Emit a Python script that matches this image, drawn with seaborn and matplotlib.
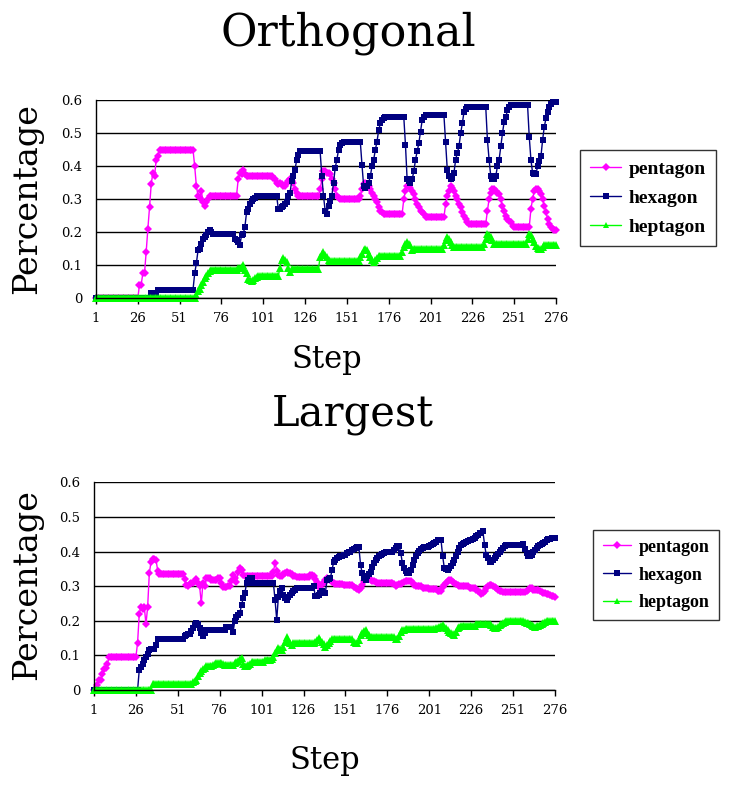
import numpy as np
import pandas as pd
import matplotlib
matplotlib.use("Agg")
import matplotlib.pyplot as plt
import seaborn as sns

# step axis and labels
steps = list(range(1, 277))
x_tick_values = [1, 26, 51, 76, 101, 126, 151, 176, 201, 226, 251, 276]
x_tick_labels = ["1", "26", "51", "76", "101", "126", "151", "176", "201", "226", "251", "276"]
y_tick_values = [0, 0.1, 0.2, 0.3, 0.4, 0.5, 0.6]
y_tick_labels = ["0", "0.1", "0.2", "0.3", "0.4", "0.5", "0.6"]
shapes = ["pentagon", "hexagon", "heptagon"]

# Orthogonal - values, one per step
pent_orth = ([0.0] * 26
             + [0.04, 0.04, 0.075, 0.075, 0.14, 0.21, 0.275, 0.345, 0.38, 0.37, 0.42, 0.43]
             + [0.45] * 21
             + [0.40, 0.34, 0.31, 0.305, 0.325, 0.29, 0.28, 0.29, 0.30]
             + [0.31] * 17
             + [0.36, 0.38, 0.375, 0.39, 0.375]
             + [0.37] * 16
             + [0.365, 0.36, 0.35, 0.345, 0.35, 0.345, 0.34, 0.34, 0.35, 0.355, 0.36, 0.355, 0.35, 0.33, 0.32]
             + [0.31] * 13
             + [0.33, 0.36, 0.385, 0.385, 0.38, 0.38, 0.375, 0.36, 0.35, 0.33, 0.31, 0.305]
             + [0.30] * 12
             + [0.31, 0.33, 0.345, 0.35, 0.345, 0.34, 0.33, 0.32, 0.31, 0.30, 0.29, 0.275, 0.265, 0.26]
             + [0.255] * 12
             + [0.30, 0.325, 0.34, 0.34, 0.335, 0.325, 0.315, 0.30, 0.285, 0.275, 0.265, 0.26, 0.255]
             + [0.245] * 12
             + [0.285, 0.31, 0.325, 0.34, 0.335, 0.325, 0.31, 0.30, 0.285, 0.275, 0.26, 0.25, 0.24, 0.23]
             + [0.225] * 11
             + [0.265, 0.30, 0.32, 0.33, 0.33, 0.325, 0.32, 0.315, 0.30, 0.28, 0.265, 0.25, 0.24, 0.235, 0.23, 0.22]
             + [0.215] * 10
             + [0.27, 0.30, 0.325, 0.33, 0.33, 0.325, 0.315, 0.30, 0.28, 0.26, 0.24, 0.225, 0.215, 0.21, 0.205, 0.205])

hex_orth = ([0.0] * 33
            + [0.015] * 4
            + [0.025] * 22
            + [0.075, 0.105, 0.145, 0.15, 0.165, 0.18, 0.185, 0.19, 0.2, 0.205, 0.2]
            + [0.195] * 13
            + [0.18, 0.175, 0.17, 0.16, 0.19, 0.195, 0.215, 0.26, 0.27, 0.285, 0.295, 0.30, 0.305]
            + [0.31] * 13
            + [0.27, 0.27, 0.275, 0.28, 0.285, 0.29, 0.31, 0.32, 0.355, 0.37, 0.39, 0.42, 0.435]
            + [0.445] * 13
            + [0.37, 0.31, 0.265, 0.255, 0.28, 0.295, 0.31, 0.35, 0.395, 0.42, 0.45, 0.465, 0.47]
            + [0.475] * 11
            + [0.405, 0.34, 0.335, 0.34, 0.35, 0.37, 0.40, 0.42, 0.45, 0.475, 0.51, 0.53, 0.54, 0.545]
            + [0.55] * 12
            + [0.465, 0.36, 0.355, 0.35, 0.36, 0.385, 0.42, 0.445, 0.47, 0.505, 0.54, 0.55]
            + [0.555] * 12
            + [0.475, 0.39, 0.37, 0.36, 0.365, 0.38, 0.42, 0.44, 0.46, 0.50, 0.53, 0.565, 0.575]
            + [0.58] * 12
            + [0.48, 0.42, 0.37, 0.36, 0.36, 0.37, 0.40, 0.42, 0.46, 0.50, 0.535, 0.55, 0.57, 0.58]
            + [0.585] * 11
            + [0.49, 0.42, 0.38, 0.375, 0.375, 0.40, 0.415, 0.43, 0.48, 0.52, 0.545, 0.565, 0.58, 0.59]
            + [0.595] * 3)

hept_orth = ([0.0] * 60
             + [0.01, 0.02, 0.027, 0.04, 0.05, 0.06, 0.067, 0.075, 0.082]
             + [0.085] * 16
             + [0.09, 0.092, 0.095, 0.10, 0.085, 0.077, 0.057, 0.055, 0.052, 0.055, 0.062, 0.065]
             + [0.067] * 13
             + [0.092, 0.115, 0.12, 0.115, 0.11, 0.09, 0.08]
             + [0.088] * 17
             + [0.125, 0.135, 0.14, 0.13, 0.125, 0.115]
             + [0.112] * 18
             + [0.125, 0.135, 0.145, 0.15, 0.145, 0.135, 0.125, 0.115, 0.11, 0.115, 0.12]
             + [0.127] * 14
             + [0.14, 0.155, 0.165, 0.17, 0.165, 0.16, 0.145]
             + [0.148] * 18
             + [0.16, 0.175, 0.185, 0.18, 0.17, 0.16]
             + [0.155] * 18
             + [0.165, 0.18, 0.195, 0.19, 0.185, 0.175]
             + [0.165] * 20
             + [0.18, 0.195, 0.19, 0.18, 0.17, 0.158, 0.152, 0.15, 0.15, 0.155]
             + [0.162] * 8)

# Largest
pent_larg = ([0.0, 0.0, 0.015, 0.03, 0.03, 0.045, 0.06, 0.063, 0.075]
             + [0.095] * 17
             + [0.137, 0.22, 0.24, 0.235, 0.24, 0.19, 0.24, 0.337, 0.37, 0.378, 0.378, 0.376, 0.345]
             + [0.335] * 15
             + [0.32, 0.304, 0.30, 0.305, 0.308, 0.31, 0.315, 0.32, 0.31, 0.30, 0.25, 0.31, 0.30, 0.323,
                0.323, 0.323, 0.318, 0.318, 0.318, 0.318, 0.323, 0.323, 0.31, 0.297, 0.297, 0.297, 0.30,
                0.30, 0.315, 0.333, 0.325, 0.313, 0.34, 0.352, 0.347, 0.333]
             + [0.33] * 17
             + [0.34, 0.368, 0.345, 0.333, 0.33, 0.328, 0.335, 0.337, 0.34, 0.337, 0.337, 0.335, 0.33, 0.328]
             + [0.326] * 8
             + [0.333, 0.333, 0.328, 0.32, 0.313, 0.30, 0.294, 0.305, 0.31, 0.318, 0.323, 0.32, 0.318, 0.312, 0.31]
             + [0.307] * 5
             + [0.304] * 6
             + [0.298, 0.294, 0.292, 0.29, 0.295, 0.304, 0.315, 0.323, 0.322, 0.32, 0.318, 0.316, 0.315, 0.313]
             + [0.309] * 10
             + [0.305, 0.30, 0.302, 0.305, 0.307, 0.31, 0.313, 0.316, 0.316, 0.316, 0.316, 0.31, 0.304]
             + [0.30] * 4
             + [0.295] * 4
             + [0.291] * 5
             + [0.287] * 3
             + [0.298, 0.304, 0.31, 0.314, 0.318, 0.318, 0.313, 0.309, 0.305, 0.302]
             + [0.30] * 6
             + [0.295] * 4
             + [0.29, 0.287, 0.282, 0.278, 0.28, 0.285, 0.295, 0.30, 0.304, 0.304, 0.30, 0.297, 0.294, 0.29,
                0.287, 0.285]
             + [0.283] * 14
             + [0.285, 0.29, 0.294, 0.294, 0.29, 0.288, 0.29, 0.288, 0.285, 0.283, 0.28, 0.28, 0.278, 0.277,
                0.275, 0.273, 0.271, 0.27])

hex_larg = ([0.0] * 27
            + [0.058, 0.067, 0.075, 0.087, 0.096, 0.105, 0.116, 0.118, 0.118, 0.118, 0.13]
            + [0.148] * 16
            + [0.155, 0.16, 0.162, 0.162, 0.17, 0.178, 0.188, 0.195, 0.192, 0.18, 0.165, 0.156, 0.165]
            + [0.174] * 12
            + [0.183] * 4
            + [0.169, 0.2, 0.212, 0.218, 0.222, 0.246, 0.265, 0.28, 0.309, 0.318, 0.323, 0.323, 0.309]
            + [0.31] * 12
            + [0.26, 0.203, 0.27, 0.285, 0.294, 0.275, 0.265, 0.26, 0.27, 0.275, 0.28, 0.285, 0.29]
            + [0.294] * 10
            + [0.30, 0.272, 0.272, 0.275, 0.28, 0.285, 0.28, 0.28, 0.318, 0.32, 0.323, 0.347, 0.371, 0.376,
               0.381, 0.383, 0.386, 0.388, 0.39, 0.39, 0.395, 0.398, 0.40, 0.404, 0.407, 0.41, 0.413, 0.413]
            + [0.362, 0.337, 0.325, 0.318, 0.328, 0.335, 0.342, 0.355, 0.366, 0.375, 0.381, 0.386, 0.39,
               0.393, 0.397]
            + [0.40] * 5
            + [0.405, 0.41, 0.417, 0.417, 0.395, 0.366, 0.352, 0.345, 0.337, 0.337, 0.347, 0.362, 0.375,
               0.386, 0.395, 0.403, 0.407, 0.41]
            + [0.413] * 3
            + [0.417, 0.42, 0.422, 0.425, 0.428, 0.432, 0.434, 0.434,
               0.386, 0.352, 0.35, 0.347, 0.352, 0.359, 0.368, 0.376, 0.388, 0.40, 0.41, 0.419, 0.423,
               0.426, 0.429, 0.43, 0.432, 0.434, 0.437, 0.44, 0.444, 0.448, 0.453, 0.455, 0.458,
               0.419, 0.39, 0.38, 0.371, 0.371, 0.376, 0.381, 0.388, 0.394, 0.40, 0.405, 0.41, 0.415]
            + [0.419] * 10
            + [0.422, 0.407, 0.395, 0.386, 0.388, 0.39, 0.398, 0.405, 0.41, 0.415, 0.419, 0.423, 0.426,
               0.429, 0.432, 0.435, 0.437, 0.438, 0.439, 0.439])

hept_larg = ([0.0] * 35
             + [0.017] * 24
             + [0.024, 0.027, 0.029, 0.04, 0.048, 0.055, 0.06, 0.065, 0.069, 0.068, 0.068, 0.07, 0.073, 0.075]
             + [0.077] * 4
             + [0.075]
             + [0.073] * 6
             + [0.077, 0.08, 0.085, 0.09, 0.092, 0.075, 0.068, 0.07, 0.072, 0.075, 0.08]
             + [0.082] * 7
             + [0.087] * 4
             + [0.089, 0.095, 0.106, 0.115, 0.12, 0.118, 0.116, 0.125, 0.14, 0.154, 0.145, 0.137, 0.13]
             + [0.135] * 13
             + [0.14, 0.145, 0.15, 0.145, 0.14, 0.132, 0.125, 0.13, 0.137, 0.143]
             + [0.146] * 13
             + [0.14, 0.137, 0.135, 0.145, 0.16, 0.165, 0.17, 0.172, 0.164, 0.158, 0.154]
             + [0.153] * 14
             + [0.147, 0.147, 0.155, 0.169, 0.172, 0.174]
             + [0.176] * 18
             + [0.178, 0.18, 0.183, 0.186, 0.188, 0.183, 0.178, 0.172, 0.168, 0.166, 0.162, 0.159, 0.168,
                0.178, 0.182, 0.184]
             + [0.186] * 8
             + [0.19] * 9
             + [0.187, 0.183, 0.18, 0.18, 0.183, 0.187, 0.19, 0.193, 0.196]
             + [0.2] * 10
             + [0.198, 0.197, 0.195, 0.193, 0.19, 0.187, 0.185, 0.183, 0.185, 0.186, 0.188, 0.19, 0.193, 0.196]
             + [0.198] * 6)

for name, arr in [("pent_orth", pent_orth), ("hex_orth", hex_orth), ("hept_orth", hept_orth),
                  ("pent_larg", pent_larg), ("hex_larg", hex_larg), ("hept_larg", hept_larg)]:
    assert len(arr) == len(steps), f"{name}: {len(arr)}"

palette = {"pentagon": "#FF00FF", "hexagon": "#000080", "heptagon": "#00FF00"}
markers = {"pentagon": "D", "hexagon": "s", "heptagon": "^"}
marker_sizes = {"pentagon": 4.0, "hexagon": 5.0, "heptagon": 5.6}

sns.set_style("white")
plt.rcParams["font.family"] = ["DejaVu Serif"]
plt.rcParams["text.color"] = "black"
plt.rcParams["xtick.color"] = "black"
plt.rcParams["ytick.color"] = "black"
plt.rcParams["axes.labelcolor"] = "black"


def draw_panel(ax, pent, hexa, hept, legend_center, legend_fontsize):
    df = pd.DataFrame({
        "Step": steps * 3,
        "Percentage": pent + hexa + hept,
        "shape": ["pentagon"] * len(steps) + ["hexagon"] * len(steps) + ["heptagon"] * len(steps),
    })
    sns.lineplot(data=df, x="Step", y="Percentage", hue="shape", style="shape",
                 hue_order=shapes, style_order=shapes, palette=palette, markers=markers,
                 dashes=False, linewidth=1, markersize=4, markeredgewidth=0,
                 estimator=None, ax=ax)
    for line, s in zip(ax.lines, shapes):
        line.set_markersize(marker_sizes[s])
        line.set_clip_on(False)

    ax.set_xlim(1, 276)
    ax.set_ylim(0, 0.601)
    ax.set_xticks(x_tick_values)
    ax.set_xticklabels(x_tick_labels)
    ax.set_yticks(y_tick_values)
    ax.set_yticklabels(y_tick_labels)
    ax.yaxis.grid(True, color="black", linewidth=1)
    ax.xaxis.grid(False)
    ax.set_axisbelow(True)
    for side in ["top", "right"]:
        ax.spines[side].set_visible(False)
    for side in ["left", "bottom"]:
        ax.spines[side].set_color("black")
        ax.spines[side].set_linewidth(1)
    ax.tick_params(axis="x", direction="out", length=4, width=1, color="black",
                   labelsize=9.5, pad=6, bottom=True)
    ax.tick_params(axis="y", length=0, labelsize=9.5, pad=10)
    ax.set_xlabel("")
    ax.set_ylabel("")

    sns.move_legend(ax, "center", bbox_to_anchor=legend_center, bbox_transform=ax.figure.transFigure,
                    title=None, frameon=True, fancybox=False, handlelength=1.6,
                    borderpad=0.5, labelspacing=0.6, handletextpad=0.4, borderaxespad=0,
                    prop={"family": "Liberation Serif", "weight": "bold", "size": legend_fontsize})
    leg = ax.get_legend()
    leg.get_frame().set_edgecolor("black")
    leg.get_frame().set_linewidth(1)
    for h in leg.legend_handles:
        h.set_linewidth(1)
        h.set_markersize(4)


fig = plt.figure(figsize=(7.29, 7.87), dpi=100)
W, H = 729, 787
ax_top = fig.add_axes([96 / W, 1 - 298 / H, 460 / W, 198 / H])
ax_bot = fig.add_axes([94 / W, 1 - 690 / H, 461 / W, 208 / H])

draw_panel(ax_top, pent_orth, hex_orth, hept_orth, (648 / W, 1 - 198 / H), 14)
draw_panel(ax_bot, pent_larg, hex_larg, hept_larg, (656 / W, 1 - 575 / H), 13)

fig.text(348 / W, 1 - 33 / H, "Orthogonal", fontsize=32, ha="center", va="center")
fig.text(353 / W, 1 - 414 / H, "Largest", fontsize=30, ha="center", va="center")
fig.text(27 / W, 1 - 198 / H, "Percentage", fontsize=24, rotation=90, ha="center", va="center")
fig.text(27 / W, 1 - 585 / H, "Percentage", fontsize=24, rotation=90, ha="center", va="center")
fig.text(327 / W, 1 - 360 / H, "Step", fontsize=22, ha="center", va="center")
fig.text(325 / W, 1 - 760 / H, "Step", fontsize=22, ha="center", va="center")

fig.savefig("out.png", dpi=100, facecolor="white")
